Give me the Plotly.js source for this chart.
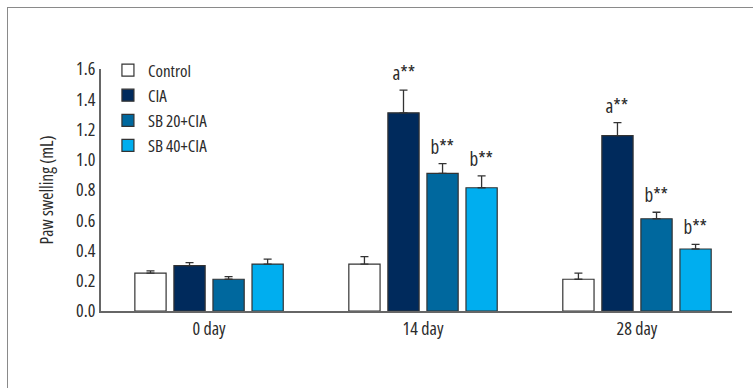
<!DOCTYPE html>
<html>
<head>
<meta charset="utf-8">
<script src="https://cdn.plot.ly/plotly-3.0.1.min.js"></script>
<style>
  html, body { margin: 0; padding: 0; background: #fff; }
  #wrap { position: relative; width: 753px; height: 388px; overflow: hidden; background: #fff; }
  #frame { position: absolute; left: 7px; top: 7px; width: 760px; height: 400px; z-index: 0;
           border-top: 1.5px solid #8a8a8a; border-left: 1.5px solid #8a8a8a; }
  #chart { position: absolute; left: 0; top: 0; width: 753px; height: 388px; z-index: 1; }
  #chart text { font-stretch: condensed; }
</style>
</head>
<body>
<div id="wrap">
  <div id="frame"></div>
  <div id="chart"></div>
</div>
<script>
// ---- data ----
const days = ["0 day", "14 day", "28 day"];
const groups = ["Control", "CIA", "SB 20+CIA", "SB 40+CIA"];
const controlMean = [0.25, 0.31, 0.21];
const controlErr  = [0.015, 0.05, 0.04];
const ciaMean     = [0.30, 1.31, 1.16];
const ciaErr      = [0.02, 0.15, 0.086];
const sb20Mean    = [0.21, 0.91, 0.61];
const sb20Err     = [0.017, 0.064, 0.043];
const sb40Mean    = [0.31, 0.815, 0.41];
const sb40Err     = [0.033, 0.078, 0.031];
// significance labels per group per day ("" = none)
const ciaSig  = ["", "a**", "a**"];
const sb20Sig = ["", "b**", "b**"];
const sb40Sig = ["", "b**", "b**"];

const colors = ["#ffffff", "#002a5c", "#00689e", "#00aeef"];
const FONT = "'Open Sans', 'Roboto Condensed', sans-serif";
const TXT = "#2b2b2b";

const means = [controlMean, ciaMean, sb20Mean, sb40Mean];
const errs  = [controlErr, ciaErr, sb20Err, sb40Err];
const sigs  = [null, ciaSig, sb20Sig, sb40Sig];

const traces = groups.map((g, i) => ({
  type: "bar",
  name: g,
  x: days,
  y: means[i],
  marker: { color: colors[i], line: { color: "#333333", width: 1.2 } },
  error_y: { type: "data", symmetric: false, array: errs[i], arrayminus: days.map(() => 0),
             color: "#333333", thickness: 1.3, width: 4 },
  hoverinfo: "skip"
}));

const bargap = 0.27, nG = groups.length;
const slot = (1 - bargap) / nG;
const annotations = [];
sigs.forEach((s, i) => {
  if (!s) return;
  s.forEach((lab, d) => {
    if (!lab) return;
    annotations.push({
      x: d + (i - (nG - 1) / 2) * slot,
      y: means[i][d] + errs[i][d],
      xref: "x", yref: "y",
      text: lab,
      showarrow: false,
      yanchor: "bottom",
      yshift: 2,
      font: { family: FONT, size: 19, color: TXT }
    });
  });
});

const layout = {
  width: 753, height: 388,
  paper_bgcolor: "rgba(0,0,0,0)", plot_bgcolor: "rgba(0,0,0,0)",
  margin: { l: 101, r: 21, t: 69, b: 77 },
  barmode: "group", bargap: bargap, bargroupgap: 0.2,
  font: { family: FONT, size: 17, color: TXT },
  xaxis: {
    type: "category", range: [-0.505, 2.444],
    showline: true, linecolor: "#666666", linewidth: 2,
    showgrid: false, zeroline: false, ticks: "",
    tickfont: { family: FONT, size: 18, color: TXT }
  },
  yaxis: {
    range: [0, 1.6], dtick: 0.2, tickformat: ".1f",
    showline: true, linecolor: "#666666", linewidth: 2,
    showgrid: false, zeroline: false, ticks: "",
    tickfont: { family: FONT, size: 18, color: TXT },
    title: { text: "Paw swelling (mL)", font: { family: FONT, size: 17.5, color: TXT }, standoff: 12 }
  },
  showlegend: true,
  legend: {
    x: 0.011, y: 1.068, xanchor: "left", yanchor: "top",
    bgcolor: "rgba(0,0,0,0)", borderwidth: 0,
    font: { family: FONT, size: 17, color: TXT },
    tracegroupgap: 0, traceorder: "normal"
  },
  annotations: annotations
};

Plotly.newPlot("chart", traces, layout, { displayModeBar: false, staticPlot: true });
</script>
</body>
</html>
